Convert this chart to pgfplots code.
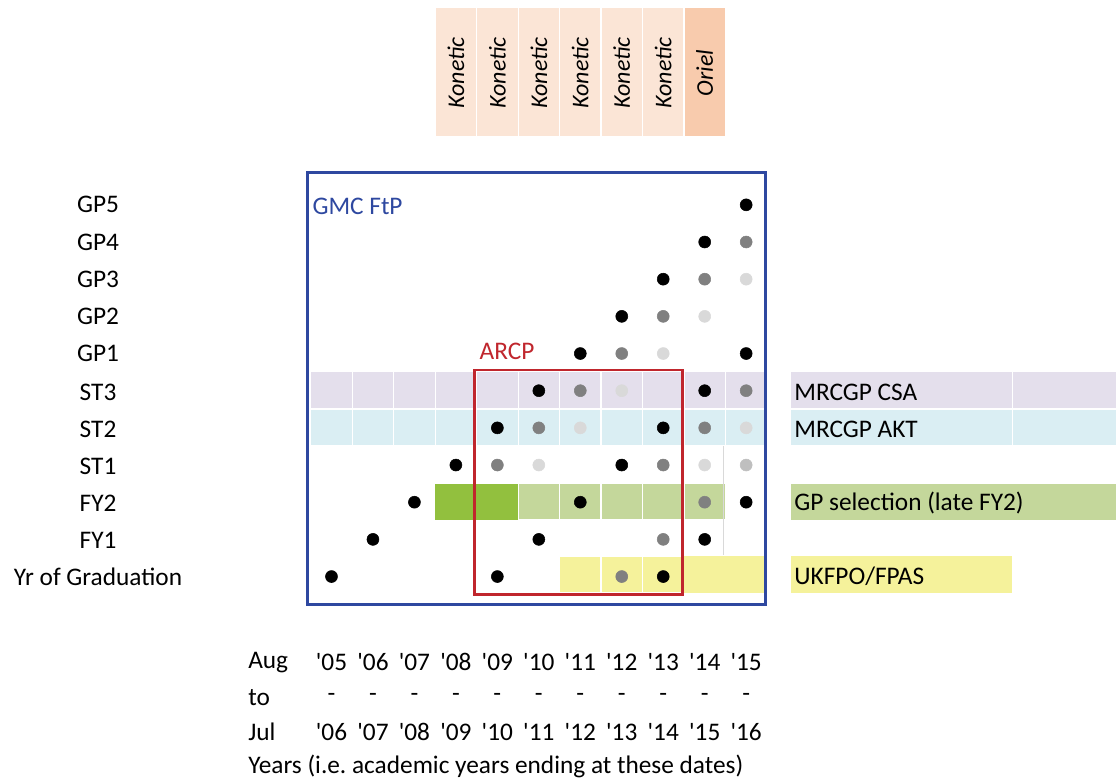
\documentclass[border=0pt]{standalone}
\usepackage{pgfplots}
\pgfplotsset{compat=1.18}
\usepackage{fontspec}
\setmainfont{Carlito}
\definecolor{lav}{HTML}{E4DFEC}
\definecolor{lblue}{HTML}{DAEEF3}
\definecolor{bgreen}{RGB}{146,192,62}
\definecolor{lgreen}{HTML}{C4D79B}
\definecolor{yel}{RGB}{245,242,155}
\definecolor{peach}{HTML}{FBE5D6}
\definecolor{peachd}{HTML}{F8CBAD}
\definecolor{boxblue}{RGB}{46,72,160}
\definecolor{boxred}{RGB}{192,38,45}
\definecolor{dgray}{HTML}{808080}
\definecolor{lgray}{HTML}{D9D9D9}
\definecolor{sgray}{HTML}{BFBFBF}
\newcommand{\cell}[5]{\addplot[fill=#1, draw=white, line width=0.8pt] coordinates {(#2,#3) (#4,#3) (#4,#5) (#2,#5)} --cycle;}
\begin{document}
\begin{tikzpicture}[font=\fontsize{19}{23}\selectfont]
\begin{axis}[
  scale only axis, width=837.75pt, height=585pt,
  xmin=-7.994, xmax=18.922, ymin=-5.457, ymax=15.511,
  hide axis, clip=false,
]
\path (rel axis cs:0,0) rectangle (rel axis cs:1,1);
% Header cells
\cell{peach}{2.5}{11.83}{3.5}{15.32}
\cell{peach}{3.5}{11.83}{4.5}{15.32}
\cell{peach}{4.5}{11.83}{5.5}{15.32}
\cell{peach}{5.5}{11.83}{6.5}{15.32}
\cell{peach}{6.5}{11.83}{7.5}{15.32}
\cell{peach}{7.5}{11.83}{8.5}{15.32}
\cell{peachd}{8.5}{11.83}{9.5}{15.32}
% ST3 band
\cell{lav}{-0.5}{4.53}{0.5}{5.53}
\cell{lav}{0.5}{4.53}{1.5}{5.53}
\cell{lav}{1.5}{4.53}{2.5}{5.53}
\cell{lav}{2.5}{4.53}{3.5}{5.53}
\cell{lav}{3.5}{4.53}{4.5}{5.53}
\cell{lav}{4.5}{4.53}{5.5}{5.53}
\cell{lav}{5.5}{4.53}{6.5}{5.53}
\cell{lav}{6.5}{4.53}{7.5}{5.53}
\cell{lav}{7.5}{4.53}{8.5}{5.53}
\cell{lav}{8.5}{4.53}{9.5}{5.53}
\cell{lav}{9.5}{4.53}{10.45}{5.53}
\cell{lav}{11.07}{4.53}{16.42}{5.53}
\cell{lav}{16.42}{4.53}{18.93}{5.53}
% ST2 band
\cell{lblue}{-0.5}{3.53}{0.5}{4.49}
\cell{lblue}{0.5}{3.53}{1.5}{4.49}
\cell{lblue}{1.5}{3.53}{2.5}{4.49}
\cell{lblue}{2.5}{3.53}{3.5}{4.49}
\cell{lblue}{3.5}{3.53}{4.5}{4.49}
\cell{lblue}{4.5}{3.53}{5.5}{4.49}
\cell{lblue}{5.5}{3.53}{6.5}{4.49}
\cell{lblue}{6.5}{3.53}{7.5}{4.49}
\cell{lblue}{7.5}{3.53}{8.5}{4.49}
\cell{lblue}{8.5}{3.53}{9.5}{4.49}
\cell{lblue}{9.5}{3.53}{10.45}{4.49}
\cell{lblue}{11.07}{3.53}{16.42}{4.49}
\cell{lblue}{16.42}{3.53}{18.93}{4.49}
% FY2 band
\addplot[fill=bgreen, draw=none] coordinates {(2.5,1.53) (4.5,1.53) (4.5,2.5) (2.5,2.5)} --cycle;
\cell{lgreen}{4.5}{1.53}{5.5}{2.5}
\cell{lgreen}{5.5}{1.53}{6.5}{2.5}
\cell{lgreen}{6.5}{1.53}{7.5}{2.5}
\cell{lgreen}{7.5}{1.53}{8.5}{2.5}
\cell{lgreen}{8.5}{1.53}{9.5}{2.5}
\addplot[fill=lgreen, draw=none] coordinates {(11.07,1.53) (18.93,1.53) (18.93,2.5) (11.07,2.5)} --cycle;
% Yellow band
\cell{yel}{5.5}{-0.43}{6.5}{0.54}
\cell{yel}{6.5}{-0.43}{7.5}{0.54}
\cell{yel}{7.5}{-0.43}{8.5}{0.54}
\addplot[fill=yel, draw=none] coordinates {(8.5,-0.43) (10.45,-0.43) (10.45,0.54) (8.5,0.54)} --cycle;
\addplot[fill=yel, draw=none] coordinates {(11.07,-0.43) (16.42,-0.43) (16.42,0.54) (11.07,0.54)} --cycle;
% faint cell border
\addplot[color=lgray, line width=0.6pt] coordinates {(9.46,3.52) (9.46,0.59)};
% dots
\addplot[only marks, mark=*, mark size=4.5pt, color=black] coordinates {
 (10,10) (9,9) (8,8) (7,7) (6,6) (10,6) (5,5) (9,5) (4,4) (8,4)
 (3,3) (7,3) (2,2) (6,2) (10,2) (1,1) (5,1) (9,1) (0,0) (4,0) (8,0)};
\addplot[only marks, mark=*, mark size=4.5pt, color=dgray] coordinates {
 (10,9) (9,8) (8,7) (7,6) (6,5) (10,5) (5,4) (9,4) (4,3) (8,3) (9,2) (8,1) (7,0)};
\addplot[only marks, mark=*, mark size=4.5pt, color=lgray] coordinates {
 (10,8) (9,7) (8,6) (7,5) (6,4) (10,4) (5,3) (9,3)};
\addplot[only marks, mark=*, mark size=4.5pt, color=sgray] coordinates {(10,3)};
% boxes
\addplot[draw=boxblue, line width=2.4pt] coordinates {(-0.572,-0.753) (10.46,-0.753) (10.46,10.86) (-0.572,10.86)} --cycle;
\addplot[draw=boxred, line width=2pt] coordinates {(3.45,-0.48) (8.46,-0.48) (8.46,5.56) (3.45,5.56)} --cycle;
% texts
\node[anchor=west, text=boxblue] at (axis cs:-0.57,9.95) {GMC FtP};
\node[anchor=west, text=boxred] at (axis cs:3.46,6.05) {ARCP};
\foreach \c in {3,4,5,6,7,8}{\edef\tmp{\noexpand\node[rotate=90, font=\noexpand\fontsize{18}{22}\noexpand\selectfont\noexpand\itshape] at (axis cs:\c,13.55) {Konetic};}\tmp}
\node[rotate=90, font=\fontsize{18}{22}\selectfont\itshape] at (axis cs:9,13.55) {Oriel};
% left labels
\node at (axis cs:-5.63,10) {GP5};
\node at (axis cs:-5.63,9) {GP4};
\node at (axis cs:-5.63,8) {GP3};
\node at (axis cs:-5.63,7) {GP2};
\node at (axis cs:-5.63,6) {GP1};
\node at (axis cs:-5.63,4.95) {ST3};
\node at (axis cs:-5.63,3.95) {ST2};
\node at (axis cs:-5.63,2.97) {ST1};
\node at (axis cs:-5.63,1.98) {FY2};
\node at (axis cs:-5.63,0.98) {FY1};
\node at (axis cs:-5.63,0) {Yr of Graduation};
% right labels
\node[anchor=west] at (axis cs:11.05,4.95) {MRCGP CSA};
\node[anchor=west] at (axis cs:11.05,3.95) {MRCGP AKT};
\node[anchor=west] at (axis cs:11.05,1.98) {GP selection (late FY2)};
\node[anchor=west] at (axis cs:11.05,0) {UKFPO/FPAS};
% bottom
\node[anchor=west] at (axis cs:-2.12,-2.31) {Aug};
\node[anchor=west] at (axis cs:-2.12,-3.25) {to};
\node[anchor=west] at (axis cs:-2.12,-4.19) {Jul};
\node[anchor=west] at (axis cs:-2.12,-5.11) {Years (i.e.\ academic years ending at these dates)};
\node at (axis cs:0,-2.31) {\textquotesingle 05};
\node at (axis cs:1,-2.31) {\textquotesingle 06};
\node at (axis cs:2,-2.31) {\textquotesingle 07};
\node at (axis cs:3,-2.31) {\textquotesingle 08};
\node at (axis cs:4,-2.31) {\textquotesingle 09};
\node at (axis cs:5,-2.31) {\textquotesingle 10};
\node at (axis cs:6,-2.31) {\textquotesingle 11};
\node at (axis cs:7,-2.31) {\textquotesingle 12};
\node at (axis cs:8,-2.31) {\textquotesingle 13};
\node at (axis cs:9,-2.31) {\textquotesingle 14};
\node at (axis cs:10,-2.31) {\textquotesingle 15};
\node at (axis cs:0,-3.25) {-};
\node at (axis cs:1,-3.25) {-};
\node at (axis cs:2,-3.25) {-};
\node at (axis cs:3,-3.25) {-};
\node at (axis cs:4,-3.25) {-};
\node at (axis cs:5,-3.25) {-};
\node at (axis cs:6,-3.25) {-};
\node at (axis cs:7,-3.25) {-};
\node at (axis cs:8,-3.25) {-};
\node at (axis cs:9,-3.25) {-};
\node at (axis cs:10,-3.25) {-};
\node at (axis cs:0,-4.19) {\textquotesingle 06};
\node at (axis cs:1,-4.19) {\textquotesingle 07};
\node at (axis cs:2,-4.19) {\textquotesingle 08};
\node at (axis cs:3,-4.19) {\textquotesingle 09};
\node at (axis cs:4,-4.19) {\textquotesingle 10};
\node at (axis cs:5,-4.19) {\textquotesingle 11};
\node at (axis cs:6,-4.19) {\textquotesingle 12};
\node at (axis cs:7,-4.19) {\textquotesingle 13};
\node at (axis cs:8,-4.19) {\textquotesingle 14};
\node at (axis cs:9,-4.19) {\textquotesingle 15};
\node at (axis cs:10,-4.19) {\textquotesingle 16};
\end{axis}
\end{tikzpicture}
\end{document}
